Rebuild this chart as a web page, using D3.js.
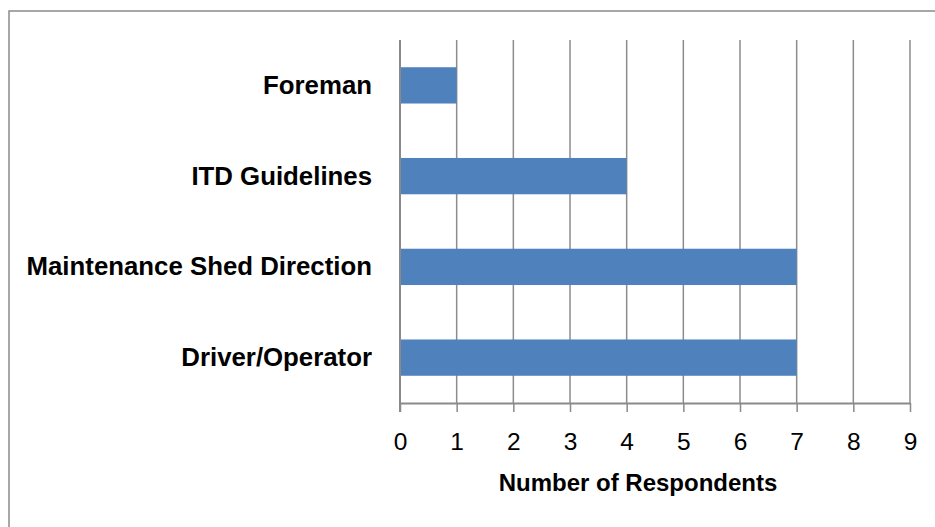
<!DOCTYPE html>
<html>
<head>
<meta charset="utf-8">
<script src="https://cdn.jsdelivr.net/npm/d3@7"></script>
<style>
    body { margin: 0; background: #fff; }
    svg { display: block; }
    text { font-family: "Liberation Sans", Arial, sans-serif; fill: #000; }
</style>
</head>
<body>
<svg width="935" height="527"></svg>
<script>
// categories top to bottom, as drawn
const categories = ["Foreman", "ITD Guidelines", "Maintenance Shed Direction", "Driver/Operator"];
const values = [1, 4, 7, 7];
const xTicks = [0, 1, 2, 3, 4, 5, 6, 7, 8, 9];
const xTitle = "Number of Respondents";

const svg = d3.select("svg");

// outer chart border (right and bottom edges are cropped off)
svg.append("rect")
   .attr("x", 9).attr("y", 11)
   .attr("width", 960).attr("height", 560)
   .attr("fill", "none")
   .attr("stroke", "#8a8a8a")
   .attr("stroke-width", 1.5);

const plot = {left: 400, right: 910, top: 40, bottom: 403};

const x = d3.scaleLinear()
    .domain([0, 9])
    .range([plot.left, plot.right]);

const y = d3.scaleBand()
    .domain(categories)
    .range([plot.top, plot.bottom])
    .paddingInner(0.6)
    .paddingOuter(0.3);

const g = svg.append("g");

// vertical gridlines
g.selectAll("line.grid")
 .data(xTicks.slice(1))
 .enter()
 .append("line")
 .attr("class", "grid")
 .attr("x1", d => x(d)).attr("x2", d => x(d))
 .attr("y1", plot.top).attr("y2", plot.bottom)
 .attr("stroke", "#8c8c8c")
 .attr("stroke-width", 1.5);

// bars
g.selectAll("rect.bar")
 .data(categories)
 .enter()
 .append("rect")
 .attr("class", "bar")
 .attr("x", x(0))
 .attr("y", d => y(d))
 .attr("width", (d, i) => x(values[i]) - x(0))
 .attr("height", y.bandwidth())
 .attr("fill", "#4f81bd");

// x axis
const xAxis = g.append("g")
    .attr("transform", `translate(0,${plot.bottom})`)
    .call(d3.axisBottom(x).tickValues(xTicks).tickFormat(d3.format("d"))
        .tickSize(9).tickPadding(21).tickSizeOuter(0));
xAxis.select(".domain").attr("stroke", "#8a8a8a").attr("stroke-width", 2);
xAxis.selectAll(".tick line").attr("stroke", "#8a8a8a").attr("stroke-width", 1.5);
xAxis.selectAll(".tick text")
     .style("font-size", "24.5px")
     .style("font-family", "'Liberation Sans', Arial, sans-serif")
     .attr("fill", "#000");

// y axis line
g.append("line")
 .attr("x1", x(0)).attr("x2", x(0))
 .attr("y1", plot.top).attr("y2", plot.bottom + 9)
 .attr("stroke", "#8a8a8a")
 .attr("stroke-width", 2);

// category labels
g.selectAll("text.cat")
 .data(categories)
 .enter()
 .append("text")
 .attr("class", "cat")
 .attr("x", 372)
 .attr("y", d => y(d) + y.bandwidth() / 2)
 .attr("dy", "0.33em")
 .attr("text-anchor", "end")
 .style("font-size", "25.8px")
 .style("font-weight", "bold")
 .text(d => d);

// axis title
svg.append("text")
   .attr("x", 638)
   .attr("y", 491)
   .attr("text-anchor", "middle")
   .style("font-size", "24px")
   .style("font-weight", "bold")
   .text(xTitle);
</script>
</body>
</html>
